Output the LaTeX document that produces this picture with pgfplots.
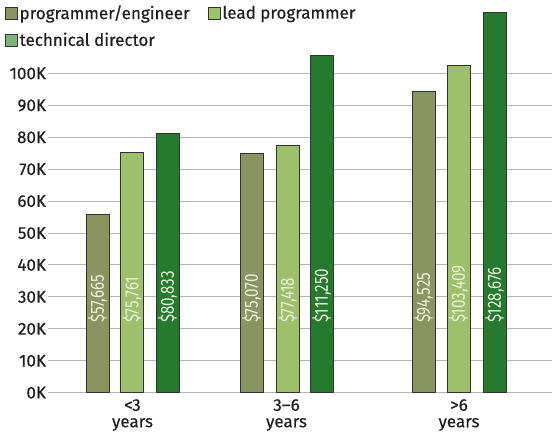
\documentclass[border=0pt]{standalone}
\usepackage{fontspec}
\setmainfont{Fira Sans}
\newfontfamily\medfont[FakeBold=0.5]{Fira Sans}
\newfontfamily\barfont[FakeStretch=0.8]{Fira Sans}
\usepackage{pgfplots}
\pgfplotsset{compat=1.18}

\definecolor{engc}{HTML}{8A9460}
\definecolor{leadc}{HTML}{9DC16A}
\definecolor{tdc}{HTML}{267A2E}
\definecolor{tdlegend}{HTML}{7DB47A}
\definecolor{edgec}{HTML}{333333}
\definecolor{gridc}{HTML}{B4B4B4}
\definecolor{txtc}{HTML}{231F20}
\definecolor{barlabel}{HTML}{EAF0DC}

\begin{document}
\begin{tikzpicture}
\begin{axis}[
  at={(48pt,42.3pt)}, anchor=south west,
  scale only axis, width=504pt, height=392.7pt,
  xmin=48, xmax=552, ymin=0, ymax=123,
  axis line style={draw=none},
  major tick length=0pt,
  ytick={0,10,...,100},
  yticklabels={0K,10K,20K,30K,40K,50K,60K,70K,80K,90K,100K},
  xtick={132.5,286.5,459},
  xticklabels={{<3\\years},{3–6\\years},{>6\\years}},
  xticklabel style={align=center, font=\medfont\fontsize{17}{16.5}\selectfont, text=txtc},
  yticklabel style={font=\medfont\fontsize{17}{18}\selectfont, text=txtc},
  /pgf/number format/assume math mode=true,
  xtick pos=bottom, ytick pos=left,
  xticklabel shift=3pt, yticklabel shift=-1.5pt,
  ymajorgrids, grid style={gridc, line width=1pt},
  legend columns=2,
  legend cell align=left,
  legend style={draw=none, fill=none, at={(axis description cs:-0.092,0.997)}, anchor=north west,
    font=\medfont\fontsize{17}{19}\selectfont, text=txtc,
    /tikz/every even column/.style={column sep=16pt}, row sep=8pt},
  legend image code/.code={\draw[#1, draw=edgec, line width=0.8pt] (0pt,-6pt) rectangle (12pt,6pt);},
]
\addplot[ybar, bar width=23, bar shift=0pt, fill=engc, draw=edgec, line width=0.8pt]
  coordinates {(97.5,55.7) (251.5,74.8) (423.5,94.5)};
\addlegendentry{programmer/engineer}
\addplot[ybar, bar width=23, bar shift=0pt, fill=leadc, draw=edgec, line width=0.8pt]
  coordinates {(132,75.3) (287.5,77.5) (458.5,102.4)};
\addlegendentry{lead programmer}
\addplot[ybar, bar width=23, bar shift=0pt, fill=tdc, draw=edgec, line width=0.8pt,
  legend image code/.code={\draw[fill=tdlegend, draw=edgec, line width=0.8pt] (0pt,-6pt) rectangle (12pt,6pt);}]
  coordinates {(167.5,81.3) (321.5,105.5) (494.5,119.2)};
\addlegendentry{technical director}
\addplot[draw=none, mark=none, forget plot, nodes near coords, point meta=explicit symbolic,
  nodes near coords style={rotate=90, anchor=west, inner sep=0pt, text=barlabel,
    font=\barfont\fontsize{19}{19}\selectfont}]
  coordinates {
    (97.5,21.8) [{\$57,665}] (132,21.8) [{\$75,761}] (167.5,21.8) [{\$80,833}]
    (251.5,21.8) [{\$75,070}] (287.5,21.8) [{\$77,418}] (321.5,21.8) [{\$111,250}]
    (423.5,21.8) [{\$94,525}] (458.5,21.8) [{\$103,409}] (494.5,21.8) [{\$128,676}]
  };
\end{axis}
\pgfresetboundingbox
\useasboundingbox (0,0) rectangle (552pt,435pt);
\end{tikzpicture}
\end{document}
